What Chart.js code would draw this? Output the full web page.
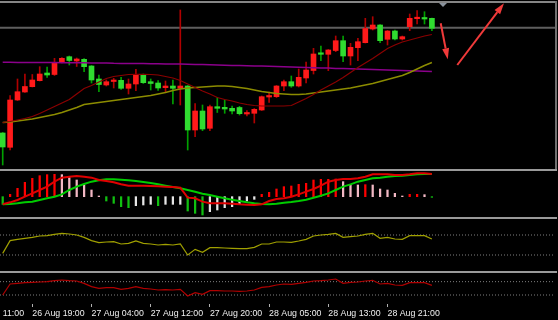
<!DOCTYPE html>
<html lang="en">
<head>
<meta charset="UTF-8">
<title>Hourly chart with MACD</title>
<script src="https://cdn.jsdelivr.net/npm/chart.js"></script>
<style>
    body { margin: 0; background: #000; }
    .wrap { position: relative; width: 558px; height: 320px; background: #000; overflow: hidden; }
    .wrap canvas { position: absolute; left: 0; }
    .sep { position: absolute; left: 0; width: 557px; height: 2px; background: #9a9a9a; }
    .edge { position: absolute; top: 1px; left: 555px; width: 2px; height: 168px; background: #6f6f6f; }
</style>
</head>
<body>
<div class="wrap">
    <canvas id="priceChart" width="555" height="166" style="top:3px"></canvas>
    <canvas id="macdChart" width="555" height="46" style="top:171px"></canvas>
    <canvas id="oscChart" width="555" height="52" style="top:219px"></canvas>
    <canvas id="lowChart" width="555" height="47" style="top:273px"></canvas>
    <div class="sep" style="top:1px; height:2px; background:#858585"></div>
    <div class="sep" style="top:169px"></div>
    <div class="sep" style="top:217px"></div>
    <div class="sep" style="top:271px"></div>
    <div class="edge"></div>
</div>

<script>
// candles, one per hour (price in chart points)
const open  = [37, 22.7, 70, 78, 83.3, 89.3, 97, 95.5, 107.5, 113.3, 109, 110.7, 104, 91, 85, 88.5, 89.7, 81.7, 86, 95.7, 88.3, 87, 82.3, 84, 81.7, 84, 40, 59, 41.7, 63.3, 62.7, 61.7, 62.5, 56, 56.7, 60, 73, 73.3, 84, 88.3, 84, 92, 99.5, 116.5, 115.7, 119.5, 129.3, 114, 122.3, 127.3, 141, 145, 130.7, 139, 131, 143.3, 151.3, 151.7, 151.7];
const high  = [37.5, 74.3, 91, 96, 95.5, 103.3, 103, 111.7, 112.5, 114, 112, 111.5, 104.5, 95, 90, 91.7, 92.7, 91, 100.7, 96, 91, 89.5, 89, 90, 160, 84.5, 66.5, 65, 65, 72.5, 70, 64, 63.7, 59.3, 61.5, 74, 78, 84.5, 90, 94, 101, 108, 121.7, 124, 120.5, 134, 134, 126.7, 131.7, 151.7, 153.3, 145.5, 139.5, 140, 134, 156, 159.3, 158.3, 152];
const low   = [5, 20, 69.5, 77.5, 83, 89, 92.5, 94.5, 107, 105, 103.5, 98.3, 87, 78.3, 84, 82, 80.5, 76, 79.3, 86.5, 80, 79.5, 77.5, 66, 65, 20, 33.3, 39.3, 39.3, 57.5, 56.7, 56, 55, 54, 47, 59.5, 67.5, 72.5, 79.3, 82.7, 83, 87, 96, 109.3, 99.3, 118.3, 108.3, 105, 109.3, 127, 140, 127.3, 125, 130, 130, 139.3, 146, 146, 139.3];
const close = [23, 70, 78.3, 83.5, 90, 96, 95, 107.7, 111.7, 109.5, 111, 103.3, 90, 85.5, 88.3, 89.7, 81.7, 86, 95.7, 87.3, 86.5, 82, 84, 81.7, 84, 40, 59, 41, 63.3, 61.7, 61, 59, 56.3, 57.3, 60.7, 73.3, 74, 84, 88.3, 84, 92.7, 100, 116, 115.7, 120, 129.3, 114, 122.7, 128.3, 141.5, 145, 129.3, 139, 131, 133.3, 151.7, 152, 151, 141.7];

// moving averages
const maFast = [47.5, 48.5, 50, 51.5, 53.5, 56.5, 60, 63.5, 67, 70.5, 76, 81.5, 84.5, 88, 91.5, 93.5, 94.5, 95.5, 95.7, 95.7, 95.5, 95, 93.5, 92, 89.5, 86, 82.5, 79, 76, 72.5, 70.5, 69, 67, 65.5, 64.5, 64, 64, 64, 64, 64.5, 68, 71.5, 75.5, 80, 84, 88, 92.5, 97.5, 102.5, 107, 111.5, 116.5, 121.5, 125, 128, 130, 132, 134, 135.5];
const maMid  = [47.5, 48, 49, 50, 51, 52.5, 54, 55.5, 57.5, 60, 62.5, 65.5, 66.5, 67.5, 68.5, 69.5, 70.5, 71.5, 72.5, 73.5, 74.5, 76, 77.5, 79.5, 81, 82, 82.5, 83, 83.5, 84, 84, 83.5, 82.5, 81.5, 80, 78.5, 77.5, 76.5, 76, 75.5, 75.5, 76, 77, 78, 79, 80, 81, 82, 83.5, 85, 86.5, 88.5, 90.5, 92.5, 94.5, 97.5, 101, 104.5, 107.5];
const maSlow = [107.7, 107.7, 107.6, 107.6, 107.5, 107.5, 107.4, 107.4, 107.3, 107.3, 107.2, 107.2, 107.1, 107.1, 107.0, 106.7, 106.6, 106.5, 106.5, 106.4, 106.3, 106.2, 106.1, 106.0, 105.9, 105.7, 105.5, 105.4, 105.2, 105.0, 104.8, 104.6, 104.4, 104.3, 104.1, 103.9, 103.7, 103.4, 103.2, 103.0, 102.8, 102.5, 102.3, 102.1, 101.9, 101.6, 101.4, 101.2, 101.0, 100.7, 100.5, 100.2, 100.0, 99.7, 99.5, 99.2, 99.0, 98.7, 98.4];
const hLine = 142.3;

// hand-drawn arrows [bar, price]
const arrowFrom = [[59.19, 146.7], [61.43, 105]];
const arrowTo   = [[60.14, 110.7], [67.74, 166.7]];
const shiftMark = 59.5;

// MACD
const macdHist  = [-23, 7, 25, 43, 55, 63, 66, 67, 66, 57, 50, 35, 20, 2, -13, -20, -30, -33, -27, -25, -23, -27, -23, -23, -23, -43, -50, -55, -45, -40, -33, -30, -23, -13, -8, 7, 13, 23, 30, 32, 37, 40, 50, 52, 52, 53, 45, 37, 35, 36, 35, 23, 20, 10, 2, 7, 7, 6, -2];
const macdRed   = [-23, -17, -10, 0, 10, 20, 30, 45, 57, 60, 62, 60, 57, 50, 47, 43, 37, 33, 33, 33, 32, 31, 30, 29, 27, -3, -5, -15, -20, -20, -20, -21, -23, -24, -25, -23, -13, -7, -5, 0, 7, 15, 23, 33, 45, 50, 53, 53, 55, 60, 67, 67, 67, 65, 65, 67, 70, 70, 68];
const macdGreen = [-23, -22, -20, -17, -15, -10, -5, 0, 7, 20, 30, 38, 45, 49, 52, 52, 51, 49, 47, 44, 41, 37, 33, 29, 25, 20, 15, 9, 5, 0, -5, -9, -13, -17, -20, -22, -23, -21, -18, -16, -13, -9, -3, 3, 10, 20, 30, 37, 45, 50, 55, 57, 60, 62, 63, 65, 67, 68, 68];

// oscillators
const oscA = [33.3, 58.7, 61.3, 63.3, 65.3, 68, 68.7, 71.3, 73.3, 72, 70, 65.3, 58.7, 54.7, 56, 56.7, 52, 53.3, 58, 53.3, 52, 50, 51.3, 50, 52, 30, 41.3, 35.3, 44.7, 44.7, 44, 43.3, 42.7, 42.7, 45.3, 52, 52, 56, 56, 55.3, 58, 61.3, 68, 70, 71.3, 73.3, 65.3, 66.7, 68, 71.3, 73.3, 63.3, 65.3, 62, 61.3, 68.7, 68.7, 68.7, 62];
const oscB = [30, 63, 65, 67, 68, 69, 70, 73, 75, 73, 72, 65, 55, 50, 52, 52, 47, 50, 55, 50, 48, 45, 46, 45, 47, 27, 37, 32, 43, 43, 42, 42, 41, 42, 45, 53, 55, 60, 63, 62, 65, 68, 72, 73, 75, 78, 65, 68, 69, 72, 74, 63, 65, 60, 59, 67, 67, 67, 59];
const oscLevels = [30, 70];

const timeTickBars = [0, 4, 12, 20, 28, 36, 44, 52];
const timeTickLabels = ['11:00', '26 Aug 19:00', '27 Aug 04:00', '27 Aug 12:00', '27 Aug 20:00', '28 Aug 05:00', '28 Aug 13:00', '28 Aug 21:00'];

// ---------------------------------------------------------------
Chart.defaults.animation = false;
Chart.defaults.events = [];
Chart.defaults.plugins.legend.display = false;
Chart.defaults.plugins.tooltip.enabled = false;
Chart.defaults.elements.point.radius = 0;
Chart.defaults.font.family = "'Liberation Sans', Arial, sans-serif";

const X_MIN = -0.365, X_MAX = 74.635;   // 7.4px per bar, empty space on the right
const bars = open.map((_, i) => i);
const pts = arr => arr.map((v, i) => ({ x: i, y: v }));
const flat = (v) => [{ x: X_MIN, y: v }, { x: X_MAX, y: v }];

function baseOptions(yMin, yMax, xOpts) {
    return {
        responsive: false,
        devicePixelRatio: 1,
        layout: { padding: 0 },
        scales: {
            x: Object.assign({ type: 'linear', min: X_MIN, max: X_MAX, offset: false, display: false }, xOpts || {}),
            y: { type: 'linear', min: yMin, max: yMax, display: false }
        }
    };
}

const arrowPlugin = {
    id: 'arrows',
    afterDatasetsDraw(chart) {
        const { ctx, scales: { x, y } } = chart;
        ctx.save();
        ctx.strokeStyle = ctx.fillStyle = '#f03a3a';
        ctx.lineWidth = 2;
        arrowFrom.forEach((from, k) => {
            const to = arrowTo[k];
            const x0 = x.getPixelForValue(from[0]), y0 = y.getPixelForValue(from[1]);
            const x1 = x.getPixelForValue(to[0]), y1 = y.getPixelForValue(to[1]);
            const ang = Math.atan2(y1 - y0, x1 - x0);
            const head = 11, half = 3.5;
            const bx = x1 - head * Math.cos(ang), by = y1 - head * Math.sin(ang);
            ctx.beginPath();
            ctx.moveTo(x0, y0);
            ctx.lineTo(bx, by);
            ctx.stroke();
            ctx.beginPath();
            ctx.moveTo(x1, y1);
            ctx.lineTo(bx + half * Math.sin(ang), by - half * Math.cos(ang));
            ctx.lineTo(bx - half * Math.sin(ang), by + half * Math.cos(ang));
            ctx.closePath();
            ctx.fill();
        });
        // chart shift marker
        const sx = x.getPixelForValue(shiftMark);
        ctx.fillStyle = '#8a929c';
        ctx.beginPath();
        ctx.moveTo(sx - 4, 0);
        ctx.lineTo(sx + 4, 0);
        ctx.lineTo(sx, 4);
        ctx.closePath();
        ctx.fill();
        ctx.restore();
    }
};

// price panel
const candleColors = bars.map(i => close[i] >= open[i] ? '#ff1a1a' : '#30dc30');
const wickColors = bars.map(i => close[i] >= open[i] ? '#b00000' : '#00a000');

new Chart(document.getElementById('priceChart'), {
    type: 'bar',
    data: {
        datasets: [
            { type: 'line', data: pts(maFast), borderColor: '#8b0000', borderWidth: 1.2, order: 1 },
            { type: 'line', data: pts(maMid), borderColor: '#8c8c00', borderWidth: 1.5, order: 1 },
            { type: 'line', data: pts(maSlow), borderColor: '#8b008b', borderWidth: 1.5, order: 1 },
            { data: bars.map(i => ({ x: i, y: [open[i], close[i]] })), backgroundColor: candleColors,
              barThickness: 5, minBarLength: 1.5, grouped: false, order: 2 },
            { data: bars.map(i => ({ x: i, y: [low[i], high[i]] })), backgroundColor: wickColors,
              barThickness: 1, grouped: false, order: 3 },
            { type: 'line', data: flat(hLine), borderColor: '#5e5e5e', borderWidth: 2, order: 4 }
        ]
    },
    options: baseOptions(1, 167),
    plugins: [arrowPlugin]
});

// MACD panel
let rising = false;
const histColors = macdHist.map((v, i) => {
    if (i > 0 && v !== macdHist[i - 1]) rising = v > macdHist[i - 1];
    if (v >= 0) return rising ? '#ff0000' : '#f2b8c4';
    return rising ? '#e6e6e6' : '#10c010';
});

new Chart(document.getElementById('macdChart'), {
    type: 'bar',
    data: {
        datasets: [
            { type: 'line', data: pts(macdRed), borderColor: '#e00000', borderWidth: 2, order: 1 },
            { type: 'line', data: pts(macdGreen), borderColor: '#00cc00', borderWidth: 2, order: 1 },
            { data: pts(macdHist), backgroundColor: histColors, barThickness: 1.6, grouped: false, order: 2 }
        ]
    },
    options: baseOptions(-61, 77)
});

// first oscillator
new Chart(document.getElementById('oscChart'), {
    type: 'line',
    data: {
        datasets: [
            { data: pts(oscA), borderColor: '#a0a000', borderWidth: 1.2, order: 1 },
            ...oscLevels.map(v => ({ data: flat(v), borderColor: '#808080', borderWidth: 1, borderDash: [1, 2], order: 2 }))
        ]
    },
    options: baseOptions(-2, 102)
});

// second oscillator + time axis
new Chart(document.getElementById('lowChart'), {
    type: 'line',
    data: {
        datasets: [
            { data: pts(oscB), borderColor: '#b00000', borderWidth: 1.2, order: 1 },
            ...oscLevels.map(v => ({ data: flat(v), borderColor: '#808080', borderWidth: 1, borderDash: [1, 2], order: 2 }))
        ]
    },
    options: baseOptions(3, 96, {
        display: true,
        afterBuildTicks: s => { s.ticks = timeTickBars.map(v => ({ value: v })); },
        afterFit: s => { s.height = 16; },
        ticks: {
            autoSkip: false, maxRotation: 0, align: 'start', padding: 1,
            color: '#f0f0f0', font: { size: 8.8 },
            callback: (v, i) => timeTickLabels[i]
        },
        grid: {
            drawOnChartArea: false, tickLength: 3,
            tickColor: c => c.index === 0 ? 'rgba(0,0,0,0)' : '#b0b0b0'
        },
        border: { display: false }
    })
});
</script>
</body>
</html>
